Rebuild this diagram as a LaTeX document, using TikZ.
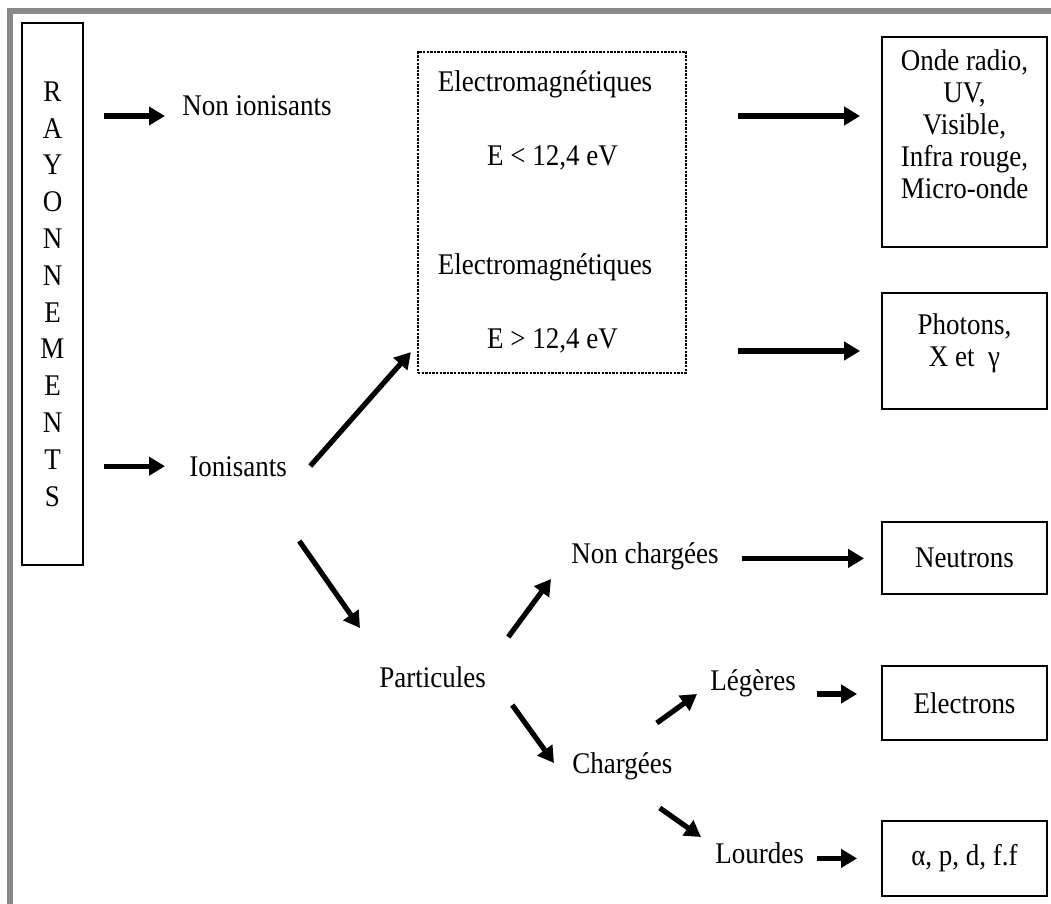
\documentclass[tikz,border=0pt]{standalone}
\usepackage{fontspec}
\setmainfont{Liberation Serif}[FakeStretch=0.9]
\usetikzlibrary{arrows.meta}
\definecolor{framegray}{RGB}{136,136,136}

\begin{document}
\begin{tikzpicture}[x=0.5pt,y=-0.5pt,
  font=\fontsize{15}{16}\selectfont,
  arr/.style={line width=2.6pt,-{Triangle[length=8pt,width=9pt]}},
  rbox/.style={draw,line width=0.9pt,minimum width=82.5pt,inner sep=0pt,align=center},
  lbl/.style={inner sep=0pt,anchor=base west}]
\useasboundingbox (0,0) rectangle (1051,904);
\clip (0,0) rectangle (1051,904);
\draw [framegray,line width=3pt] (9.5,11.5) rectangle (1100,950);

\node [draw,line width=0.9pt,minimum width=30.5pt,minimum height=271pt,inner sep=0pt,align=center,font=\fontsize{15}{18.4}\selectfont] (ray) at (52.5,294) {R\\A\\Y\\O\\N\\N\\E\\M\\E\\N\\T\\S};

\node [lbl] (nonion) at (182,116) {Non ionisants};
\node [lbl] (ionis) at (189,476) {Ionisants};
\node [lbl] (partic) at (379,687) {Particules};
\node [lbl] (nonch) at (571,563) {Non chargées};
\node [lbl] (charg) at (572,773) {Chargées};
\node [lbl] (leg) at (710,690) {Légères};
\node [lbl] (lourd) at (715,863) {Lourdes};

\node [draw,dash pattern=on 1.2pt off 0.6pt,line width=1.1pt,minimum width=134pt,minimum height=160.5pt] (em) at (552,212.5) {};
\node [anchor=base] (emA) at (545,92) {Electromagnétiques};
\node [anchor=base] (emAval) at (552.5,166) {E < 12,4 eV};
\node [anchor=base] (emB) at (545,275) {Electromagnétiques};
\node [anchor=base] (emBval) at (552.5,349) {E > 12,4 eV};

\node [rbox,minimum height=105pt] (onde) at (964.5,142) {};
\node [align=center,inner sep=0pt] (ondetxt) at (964.5,124) {Onde radio,\\UV,\\Visible,\\Infra rouge,\\Micro-onde};
\node [rbox,minimum height=58pt] (photons) at (964.5,351) {};
\node [align=center,inner sep=0pt] (photxt) at (964.5,343) {Photons,\\X et\ \ γ};
\node [rbox,minimum height=36pt] (neutrons) at (964.5,558) {Neutrons};
\node [rbox,minimum height=37pt] (electrons) at (964.5,703) {Electrons};
\node [rbox,minimum height=37.5pt] (alpha) at (964.5,858.5) {α, p, d, f.f};

\draw [arr,shorten <=10pt,shorten >=8.5pt] (ray.east |- nonion.base) -- (nonion.base west);
\draw [arr,shorten <=10pt,shorten >=12pt] (ray.east |- ionis.west) -- (ionis.west);
\draw [arr] ([xshift=11.5pt,yshift=5pt]ionis.base east) -- ([xshift=-3pt,yshift=11pt]em.south west);
\draw [arr] ([xshift=6pt,yshift=-32.5pt]ionis.base east) -- ([xshift=-9.5pt,yshift=29.5pt]partic.base west);
\draw [arr] ([xshift=11pt,yshift=25pt]partic.base east) -- ([xshift=-10pt,yshift=-8pt]nonch.base west);
\draw [arr] ([xshift=13pt,yshift=-9pt]partic.base east) -- ([xshift=-9pt,yshift=5pt]charg.base west);
\draw [arr] ([xshift=-8pt,yshift=25pt]charg.base east) -- ([xshift=-6.5pt,yshift=-2pt]leg.base west);
\draw [arr] ([xshift=-6.5pt,yshift=-17.5pt]charg.base east) -- ([xshift=-7pt,yshift=13pt]lourd.base west);
\draw [arr,shorten <=11.5pt,shorten >=8.5pt] (nonch.mid east) -- (neutrons.west |- nonch.mid east);
\draw [arr,shorten <=10.5pt,shorten >=12pt] ([yshift=-2pt]leg.base east) -- ([yshift=-2pt]electrons.west |- leg.base east);
\draw [arr,shorten <=6.5pt,shorten >=12pt] (lourd.mid east) -- (alpha.west |- lourd.mid east);
\draw [arr,shorten <=25.5pt,shorten >=10.5pt] (em.east |- nonion.base) -- (onde.west |- nonion.base);
\draw [arr,shorten <=25.5pt,shorten >=10.5pt] (em.east |- photons.west) -- (photons.west);
\end{tikzpicture}
\end{document}
